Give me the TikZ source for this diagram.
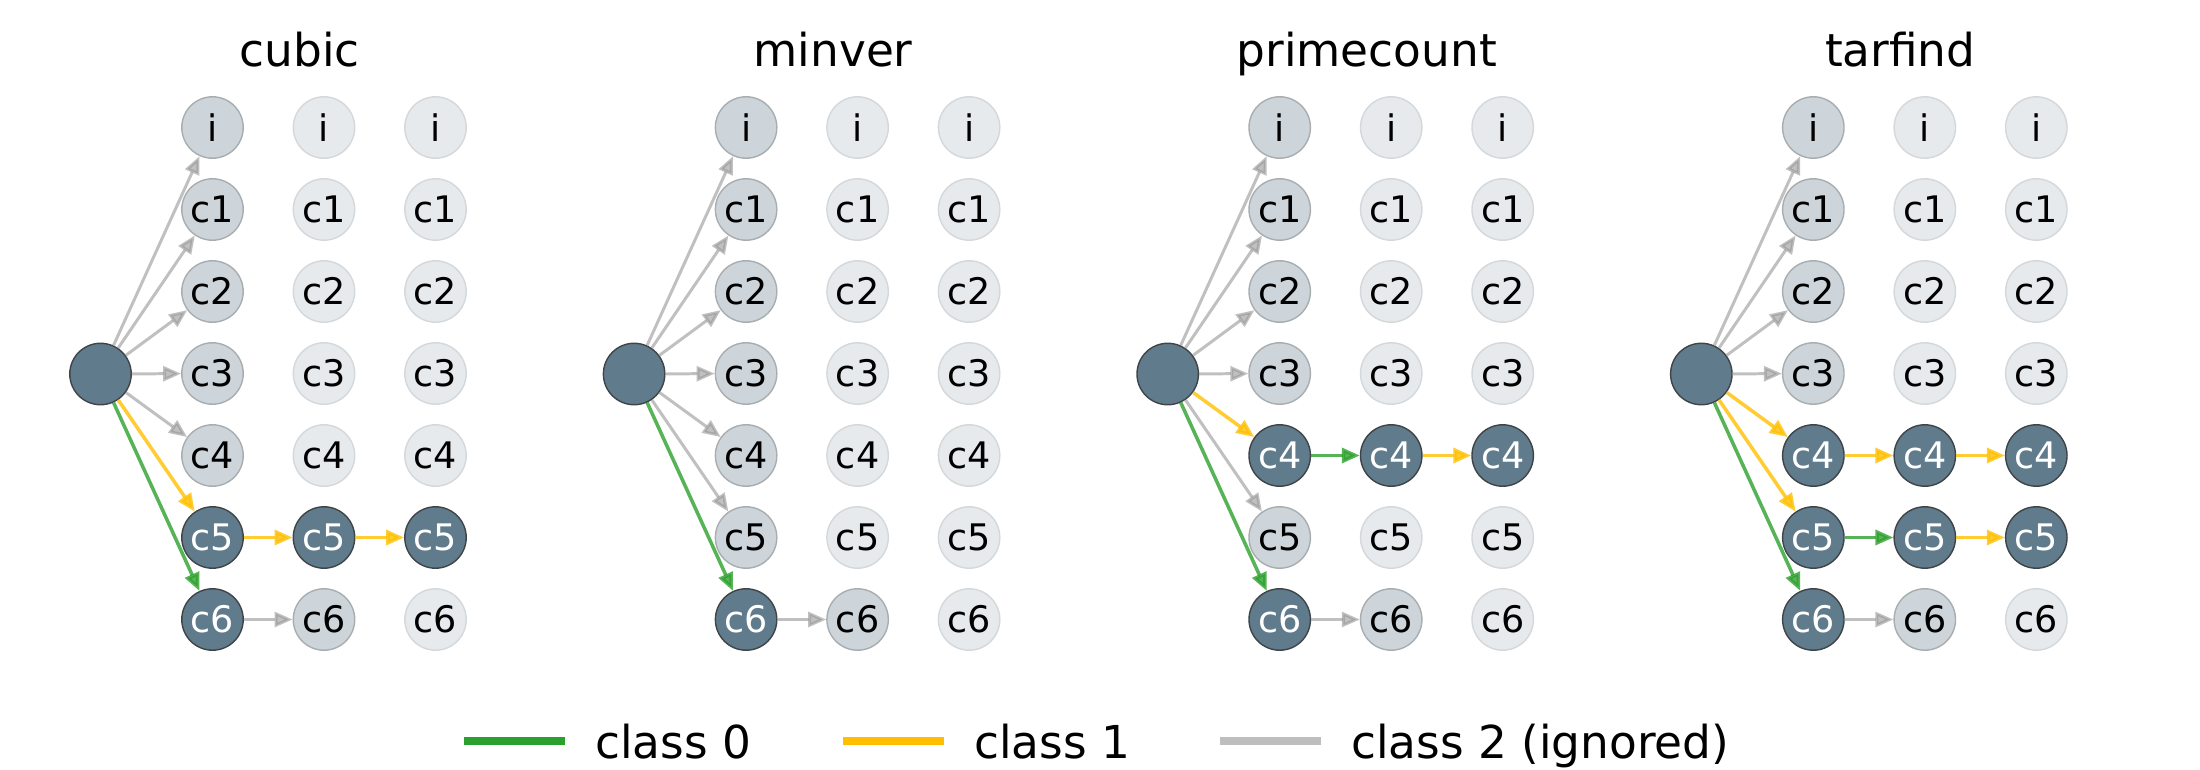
\documentclass[tikz,border=0pt]{standalone}
\usepackage{fontspec}
\setmainfont{DejaVu Sans}
\usetikzlibrary{arrows.meta}
\usetikzlibrary{positioning}

\definecolor{hitfill}{RGB}{96,123,139}
\definecolor{hitline}{RGB}{62,68,72}
\definecolor{seenfill}{RGB}{205,213,219}
\definecolor{seenline}{RGB}{168,173,176}
\definecolor{idlefill}{RGB}{230,234,236}
\definecolor{idleline}{RGB}{212,216,218}
\definecolor{czero}{RGB}{44,160,44}
\definecolor{cone}{RGB}{255,191,0}
\definecolor{ctwo}{RGB}{150,150,150}
\definecolor{ctwokey}{RGB}{190,190,190}

\tikzset{
every node/.style={font=\fontsize{10.4}{12}\selectfont},
cell/.style={ % one step of the search
circle, minimum size=0.614cm, inner sep=0pt, line width=0.4pt},
hit/.style={cell, fill=hitfill, draw=hitline, text=white},
seen/.style={cell, fill=seenfill, draw=seenline},
idle/.style={cell, fill=idlefill, draw=idleline},
title/.style={anchor=base, font=\fontsize{12.9}{15}\selectfont},
every edge/.style={ % transitions
draw,
-{Triangle[length=0.18cm, width=0.15cm]}},
cls0/.style={draw=czero, line width=1pt, opacity=0.8},
cls1/.style={draw=cone, line width=1pt, opacity=0.8},
cls2/.style={draw=ctwo, line width=0.85pt, opacity=0.6},
keyline/.style={line width=2.4pt},
keytext/.style={anchor=base west, inner sep=0pt, xshift=0.26cm, yshift=-0.17cm,
font=\fontsize{12.9}{15}\selectfont}}

\begin{document}
\begin{tikzpicture}[x=0.01cm, y=-0.01cm]
	\useasboundingbox (0,0) rectangle (2200,770);
	\foreach \t/\sa/\sb/\sc [count=\p] in {
		cubic/{seen,seen,seen,seen,seen,hit,hit}/{idle,idle,idle,idle,idle,hit,seen}/{idle,idle,idle,idle,idle,hit,idle},
		minver/{seen,seen,seen,seen,seen,seen,hit}/{idle,idle,idle,idle,idle,idle,seen}/{idle,idle,idle,idle,idle,idle,idle},
		primecount/{seen,seen,seen,seen,hit,seen,hit}/{idle,idle,idle,idle,hit,idle,seen}/{idle,idle,idle,idle,hit,idle,idle},
		tarfind/{seen,seen,seen,seen,hit,hit,hit}/{idle,idle,idle,idle,hit,hit,seen}/{idle,idle,idle,idle,hit,hit,idle}}{
		\pgfmathsetmacro{\sx}{100.5+533.6*(\p-1)}
		\node[hit] (p\p-s) at (\sx,374) {};
		\node[title] (title\p) at ({\sx+199},67) {\t};
		\foreach \st [count=\r from 0] in \sa
			\node[\st] (p\p-1-\r) at ({\sx+112},{127.5+82*\r}) {\ifnum\r=0 i\else c\r\fi};
		\foreach \st [count=\r from 0] in \sb
			\node[\st] (p\p-2-\r) at ({\sx+223.5},{127.5+82*\r}) {\ifnum\r=0 i\else c\r\fi};
		\foreach \st [count=\r from 0] in \sc
			\node[\st] (p\p-3-\r) at ({\sx+335},{127.5+82*\r}) {\ifnum\r=0 i\else c\r\fi};
	}
	% cubic
	\foreach \a/\b/\k in {s/1-0/cls2, s/1-1/cls2, s/1-2/cls2, s/1-3/cls2, s/1-4/cls2, 1-6/2-6/cls2,
		s/1-5/cls1, s/1-6/cls0, 1-5/2-5/cls1, 2-5/3-5/cls1}
		\draw (p1-\a) edge[\k] (p1-\b);
	% minver
	\foreach \a/\b/\k in {s/1-0/cls2, s/1-1/cls2, s/1-2/cls2, s/1-3/cls2, s/1-4/cls2, s/1-5/cls2,
		1-6/2-6/cls2, s/1-6/cls0}
		\draw (p2-\a) edge[\k] (p2-\b);
	% primecount
	\foreach \a/\b/\k in {s/1-0/cls2, s/1-1/cls2, s/1-2/cls2, s/1-3/cls2, s/1-5/cls2, 1-6/2-6/cls2,
		s/1-4/cls1, s/1-6/cls0, 1-4/2-4/cls0, 2-4/3-4/cls1}
		\draw (p3-\a) edge[\k] (p3-\b);
	% tarfind
	\foreach \a/\b/\k in {s/1-0/cls2, s/1-1/cls2, s/1-2/cls2, s/1-3/cls2, 1-6/2-6/cls2,
		s/1-4/cls1, s/1-5/cls1, s/1-6/cls0, 1-4/2-4/cls1, 2-4/3-4/cls1, 1-5/2-5/cls0, 2-5/3-5/cls1}
		\draw (p4-\a) edge[\k] (p4-\b);
	% legend
	\foreach \c/\x/\t [count=\i] in {czero/464/{class 0}, cone/843/{class 1}, ctwokey/1220/{class 2 (ignored)}}{
		\coordinate (key\i) at (\x,741);
		\draw[keyline, draw=\c] (key\i) -- ++(101,0) node[keytext] (keytext\i) {\t};
	}
\end{tikzpicture}
\end{document}
